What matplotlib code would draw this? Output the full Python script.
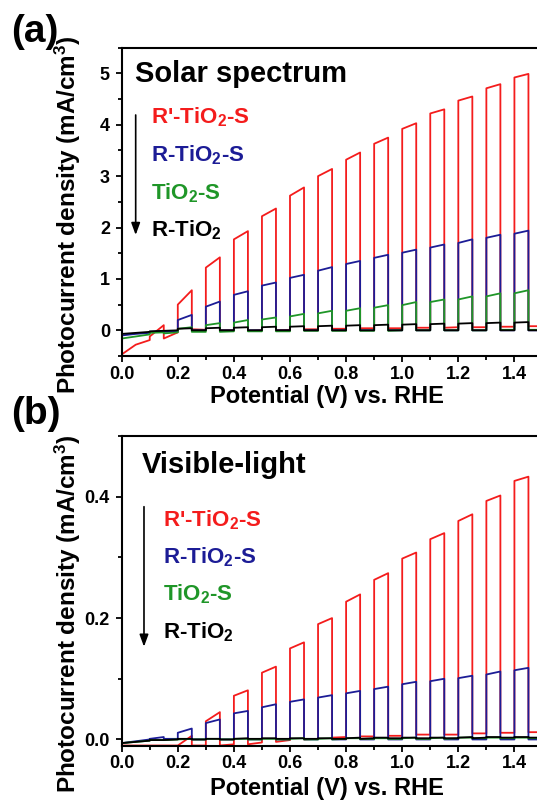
import numpy as np
import matplotlib
matplotlib.use('Agg')
from matplotlib import pyplot as plt
from matplotlib.ticker import MultipleLocator, FormatStrFormatter

plt.rcParams['font.family'] = ['Liberation Sans', 'DejaVu Sans']
plt.rcParams['font.weight'] = 'bold'
plt.rcParams['axes.labelweight'] = 'bold'
plt.rcParams['mathtext.fontset'] = 'custom'
plt.rcParams['mathtext.rm'] = 'Liberation Sans:bold'
plt.rcParams['mathtext.default'] = 'rm'

# potencial donde se lee la corriente en oscuridad (V vs RHE)
potencial = [0.00, 0.05, 0.10, 0.15, 0.20, 0.25, 0.30, 0.35, 0.40, 0.45,
             0.50, 0.55, 0.60, 0.65, 0.70, 0.75, 0.80, 0.85, 0.90, 0.95,
             1.00, 1.05, 1.10, 1.15, 1.20, 1.25, 1.30, 1.35, 1.40, 1.45, 1.50]
# inicio de cada pulso de luz (dura 0.05 V)
pulsos = [0.1, 0.2, 0.3, 0.4, 0.5, 0.6, 0.7, 0.8, 0.9, 1.0, 1.1, 1.2, 1.3, 1.4]
ancho_pulso = 0.05

etiquetas = ["R'-TiO$_2$-S", "R-TiO$_2$-S", "TiO$_2$-S", "R-TiO$_2$"]
colores = ['#f41c1c', '#1c1c96', '#1f9628', '#000000']

###(a) espectro solar
rojo_a_osc = [-0.47, -0.28, -0.19, -0.16, -0.04, 0.02, 0.01, 0.00, 0.00, -0.01,
              0.00, 0.00, 0.01, 0.02, 0.02, 0.03, 0.03, 0.04, 0.04, 0.04,
              0.04, 0.05, 0.05, 0.05, 0.06, 0.06, 0.06, 0.07, 0.07, 0.08, 0.08]
rojo_a_ini = [-0.12, 0.50, 1.22, 1.77, 2.22, 2.62, 3.00, 3.32, 3.63, 3.92, 4.22, 4.47, 4.71, 4.92]
rojo_a_fin = [0.10, 0.78, 1.42, 1.93, 2.37, 2.78, 3.14, 3.46, 3.75, 4.03, 4.30, 4.55, 4.79, 4.99]

azul_a_osc = [-0.10, -0.07, -0.05, -0.03, -0.02, 0.00, 0.00, 0.00, 0.00, 0.00,
              0.00, 0.00, 0.00, 0.00, 0.00, 0.00, 0.00, 0.00, 0.00, 0.00,
              0.00, 0.00, 0.00, 0.00, 0.00, 0.00, 0.00, 0.00, 0.00, 0.00, 0.00]
azul_a_ini = [-0.03, 0.20, 0.46, 0.69, 0.87, 1.02, 1.16, 1.29, 1.41, 1.51, 1.61, 1.70, 1.80, 1.88]
azul_a_fin = [-0.01, 0.30, 0.56, 0.76, 0.93, 1.08, 1.23, 1.35, 1.47, 1.57, 1.67, 1.77, 1.86, 1.94]

verde_a_osc = [-0.16, -0.12, -0.08, -0.06, -0.04, -0.03, -0.03, -0.03, -0.02, -0.02,
               -0.02, -0.02, -0.02, -0.01, -0.01, -0.01, -0.01, -0.01, -0.01, -0.01,
               0.00, 0.00, 0.00, 0.00, 0.00, 0.00, 0.00, 0.01, 0.01, 0.01, 0.01]
verde_a_ini = [-0.05, 0.03, 0.10, 0.15, 0.21, 0.27, 0.33, 0.38, 0.44, 0.49, 0.55, 0.60, 0.66, 0.72]
verde_a_fin = [-0.04, 0.06, 0.14, 0.20, 0.25, 0.32, 0.38, 0.43, 0.49, 0.55, 0.60, 0.66, 0.72, 0.78]

negro_a_osc = [-0.07, -0.05, -0.03, -0.01, 0.00, 0.00, 0.00, 0.00, 0.00, 0.00,
               0.00, 0.00, 0.00, 0.00, 0.00, 0.00, 0.00, 0.00, 0.00, 0.00,
               0.00, 0.00, 0.00, 0.00, 0.00, 0.00, 0.00, 0.00, 0.00, 0.00, 0.00]
negro_a_ini = [-0.02, 0.03, 0.04, 0.05, 0.06, 0.07, 0.08, 0.09, 0.10, 0.11, 0.12, 0.13, 0.14, 0.15]
negro_a_fin = [-0.01, 0.04, 0.05, 0.06, 0.07, 0.08, 0.09, 0.10, 0.11, 0.12, 0.13, 0.14, 0.15, 0.16]

###(b) luz visible
rojo_b_osc = [-0.010, -0.010, -0.010, -0.010, -0.010, -0.010, -0.010, -0.010, -0.008, -0.008,
              -0.005, -0.004, -0.001, 0.000, 0.001, 0.003, 0.004, 0.005, 0.005, 0.006,
              0.006, 0.008, 0.008, 0.008, 0.008, 0.010, 0.010, 0.011, 0.011, 0.012, 0.012]
rojo_b_ini = [-0.010, -0.010, 0.030, 0.072, 0.110, 0.150, 0.190, 0.227, 0.263, 0.298, 0.330, 0.360, 0.393, 0.426]
rojo_b_fin = [-0.010, 0.006, 0.045, 0.081, 0.120, 0.160, 0.200, 0.239, 0.274, 0.308, 0.340, 0.371, 0.402, 0.433]

azul_b_osc = [-0.006, -0.003, 0.000, 0.001, 0.001, 0.000, 0.000, 0.000, 0.000, 0.000,
              0.000, 0.000, 0.000, 0.000, 0.000, 0.000, 0.000, 0.000, 0.000, 0.000,
              0.000, 0.000, 0.000, 0.000, 0.000, 0.000, 0.000, 0.000, 0.000, 0.000, 0.000]
azul_b_ini = [0.001, 0.011, 0.027, 0.043, 0.053, 0.062, 0.069, 0.076, 0.083, 0.091, 0.096, 0.101, 0.107, 0.114]
azul_b_fin = [0.004, 0.018, 0.033, 0.047, 0.058, 0.066, 0.073, 0.080, 0.087, 0.095, 0.100, 0.105, 0.112, 0.118]

verde_b_osc = [-0.006, -0.004, -0.002, -0.001, 0.000, 0.000, 0.000, 0.000, 0.000, 0.000,
               0.000, 0.000, 0.000, 0.000, 0.000, 0.000, 0.001, 0.001, 0.001, 0.001,
               0.001, 0.001, 0.001, 0.001, 0.002, 0.002, 0.002, 0.002, 0.002, 0.002, 0.002]
verde_b_ini = [-0.001, 0.000, 0.001, 0.001, 0.001, 0.001, 0.001, 0.002, 0.002, 0.002, 0.002, 0.003, 0.003, 0.003]
verde_b_fin = [-0.001, 0.001, 0.001, 0.001, 0.001, 0.002, 0.002, 0.002, 0.002, 0.003, 0.003, 0.003, 0.003, 0.003]

negro_b_osc = [-0.006, -0.004, -0.002, -0.001, 0.000, 0.000, 0.000, 0.000, 0.000, 0.001,
               0.001, 0.001, 0.001, 0.001, 0.001, 0.001, 0.001, 0.001, 0.002, 0.002,
               0.002, 0.002, 0.002, 0.002, 0.002, 0.002, 0.003, 0.003, 0.003, 0.003, 0.003]
negro_b_ini = [-0.001, 0.001, 0.001, 0.001, 0.002, 0.002, 0.002, 0.002, 0.003, 0.003, 0.003, 0.003, 0.004, 0.004]
negro_b_fin = [-0.001, 0.001, 0.001, 0.002, 0.002, 0.002, 0.002, 0.003, 0.003, 0.003, 0.003, 0.004, 0.004, 0.004]


def curvaPulsada(osc, ini, fin):
    # arma la curva: oscuridad en la grilla, pulso vertical al encender y al apagar
    indice = {round(p, 2): k for k, p in enumerate(pulsos)}
    xs, ys = [], []
    for x, y in zip(potencial, osc):
        xs.append(x)
        ys.append(y)
        k = indice.get(round(x, 2))
        if k is not None:
            xs += [x, x + ancho_pulso]
            ys += [ini[k], fin[k]]
    return xs, ys


def armaPanel(ax, series, titulo, pos, ylim, paso, fmt):
    for (osc, ini, fin), color in zip(series, colores):
        xs, ys = curvaPulsada(osc, ini, fin)
        ax.plot(xs, ys, color=color, lw=1.3)
    ax.set_xlim(0, 1.55)
    ax.set_ylim(*ylim)
    ax.xaxis.set_major_locator(MultipleLocator(0.2))
    ax.xaxis.set_minor_locator(MultipleLocator(0.1))
    ax.yaxis.set_major_locator(MultipleLocator(paso))
    ax.yaxis.set_minor_locator(MultipleLocator(paso / 2))
    ax.xaxis.set_major_formatter(FormatStrFormatter('%.1f'))
    ax.yaxis.set_major_formatter(FormatStrFormatter(fmt))
    ax.tick_params(which='both', direction='out', width=1.3, labelsize=13)
    ax.tick_params(which='major', length=4.5)
    ax.tick_params(which='minor', length=3)
    ax.tick_params(axis='x', pad=2.5)
    ax.tick_params(axis='y', pad=4)
    for lado in ax.spines.values():
        lado.set_linewidth(1.5)
    ax.set_xlabel('Potential (V) vs. RHE', fontsize=17)
    ax.set_ylabel('Photocurrent density (mA/cm$^3$)', fontsize=17.5)
    ax.xaxis.set_label_coords(0.472, pos['xlab'])
    ax.yaxis.set_label_coords(-0.088, pos['ylab'])
    ax.text(pos['tx'], pos['ty'], titulo, transform=ax.transAxes, fontsize=21,
            va='baseline', ha='left')
    for i, texto in enumerate(etiquetas):
        ax.text(pos['lx'], pos['ly'][i], texto, transform=ax.transAxes,
                color=colores[i], fontsize=16, va='baseline', ha='left')
    ax.annotate('', xy=(pos['fx'], pos['fy'][1]), xytext=(pos['fx'], pos['fy'][0]),
                xycoords='axes fraction',
                arrowprops=dict(arrowstyle='-|>,head_length=0.6,head_width=0.22',
                                color='k', lw=1.2, mutation_scale=12,
                                shrinkA=0, shrinkB=0))


fig = plt.figure(figsize=(5.37, 8.0), dpi=100)
ax1 = fig.add_axes([0.2266, 0.555, 0.8097, 0.3854])
ax2 = fig.add_axes([0.2266, 0.0681, 0.8097, 0.3869])

armaPanel(ax1,
          [(rojo_a_osc, rojo_a_ini, rojo_a_fin), (azul_a_osc, azul_a_ini, azul_a_fin),
           (verde_a_osc, verde_a_ini, verde_a_fin), (negro_a_osc, negro_a_ini, negro_a_fin)],
          'Solar spectrum',
          dict(xlab=-0.095, ylab=0.457, tx=0.031, ty=0.890, lx=0.0667,
               ly=[0.7548, 0.6302, 0.5083, 0.3870], fx=0.0322, fy=[0.7817, 0.3925]),
          (-0.5, 5.5), 1, '%d')

armaPanel(ax2,
          [(rojo_b_osc, rojo_b_ini, rojo_b_fin), (azul_b_osc, azul_b_ini, azul_b_fin),
           (verde_b_osc, verde_b_ini, verde_b_fin), (negro_b_osc, negro_b_ini, negro_b_fin)],
          'Visible-light',
          dict(xlab=-0.102, ylab=0.4265, tx=0.046, ty=0.8795, lx=0.0957,
               ly=[0.7069, 0.5887, 0.4701, 0.3464], fx=0.0513, fy=[0.7716, 0.3192]),
          (-0.01, 0.5), 0.2, '%.1f')

fig.text(11 / 537, 1 - 41.8 / 800, '(a)', fontsize=28, va='baseline', ha='left')
fig.text(11 / 537, 1 - 424 / 800, '(b)', fontsize=28, va='baseline', ha='left')

fig.savefig('out.png', dpi=100)
